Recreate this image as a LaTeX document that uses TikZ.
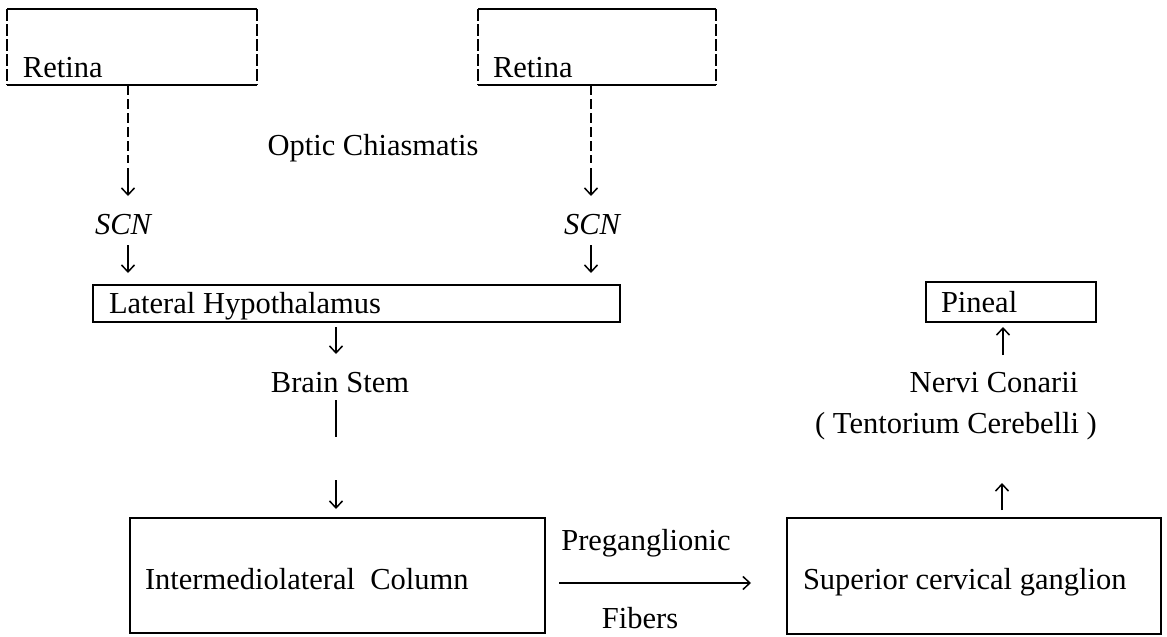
\documentclass[tikz,border=0pt]{standalone}
\usepackage{fontspec}
\setmainfont{Liberation Serif}
\usetikzlibrary{arrows.meta,calc}
\begin{document}
\begin{tikzpicture}[x=1pt,y=-1pt,
  every node/.style={font=\fontsize{30.5}{36}\selectfont, inner sep=0pt, outer sep=0pt},
  frame/.style={draw, line width=1.7pt, inner sep=0pt},
  solidedge/.style={line width=1.7pt},
  side/.style={line width=1.5pt, dash pattern=on 12pt off 3pt},
  txt/.style={anchor=base west},
  ctxt/.style={anchor=base},
  arr/.style={line width=1.2pt, -{Straight Barb[length=7pt,width=13pt,line width=1.5pt]}},
  dl/.style={line width=1.2pt, dash pattern=on 10pt off 4pt},
  ln/.style={line width=1.2pt}]
\useasboundingbox[fill=white] (0,0) rectangle (1167,637);

% Retina boxes
\node[minimum width=250pt,minimum height=76pt] (ret1) at (132,47) {};
\draw[solidedge] (ret1.north west) -- (ret1.north east) (ret1.south west) -- (ret1.south east);
\draw[side] (ret1.north west) -- (ret1.south west) (ret1.north east) -- (ret1.south east);
\node[txt] (rt1) at ($(ret1.south west)+(16,-8)$) {Retina};

\node[minimum width=238pt,minimum height=76pt] (ret2) at (597,47) {};
\draw[solidedge] (ret2.north west) -- (ret2.north east) (ret2.south west) -- (ret2.south east);
\draw[side] (ret2.north west) -- (ret2.south west) (ret2.north east) -- (ret2.south east);
\node[txt] (rt2) at ($(ret2.south west)+(15,-8)$) {Retina};

\node[ctxt] (oc) at (373,155) {Optic Chiasmatis};

% dashed optic paths
\coordinate (d1) at (128,163);
\coordinate (d2) at (591,163);
\draw[dl] (ret1.south -| d1) -- (d1);
\draw[dl] (ret2.south -| d2) -- (d2);

\coordinate (a1s) at (128,168); \coordinate (a1e) at (128,196);
\coordinate (a2s) at (591,168); \coordinate (a2e) at (591,196);
\draw[arr] (a1s) -- (a1e);
\draw[arr] (a2s) -- (a2e);

\node[ctxt] (scn1) at (123,234) {\itshape SCN};
\node[ctxt] (scn2) at (592,234) {\itshape SCN};

\coordinate (b1s) at (128,245); \coordinate (b1e) at (128,273);
\coordinate (b2s) at (591,245); \coordinate (b2e) at (591,273);
\draw[arr] (b1s) -- (b1e);
\draw[arr] (b2s) -- (b2e);

% Lateral Hypothalamus
\node[frame, minimum width=527pt, minimum height=37pt] (lh) at (356.5,303.5) {};
\node[txt] (lht) at (109,313) {Lateral Hypothalamus};

\coordinate (c1s) at (336,327); \coordinate (c1e) at (336,354);
\draw[arr] (c1s) -- (c1e);
\node[ctxt] (bs) at (340,392) {Brain Stem};
\coordinate (l1s) at (336,400); \coordinate (l1e) at (336,437);
\draw[ln] (l1s) -- (l1e);
\coordinate (c2s) at (336,480); \coordinate (c2e) at (336,509);
\draw[arr] (c2s) -- (c2e);

% Intermediolateral Column
\node[frame, minimum width=415pt, minimum height=115pt] (ilc) at (337.5,575.5) {};
\node[txt] (ilct) at (145,589) {Intermediolateral\ \ Column};

\node[ctxt] (pre) at (646,550) {Preganglionic};
\coordinate (h1s) at (559,583); \coordinate (h1e) at (751,583);
\draw[arr] (h1s) -- (h1e);
\node[ctxt] (fib) at (640,628) {Fibers};

% Superior cervical ganglion
\node[frame, minimum width=374pt, minimum height=116pt] (scg) at (974,576) {};
\node[txt] (scgt) at (803,589) {Superior cervical ganglion};

\coordinate (u1s) at (1002,510); \coordinate (u1e) at (1002,483);
\draw[arr] (u1s) -- (u1e);
\node[ctxt] (nc) at (994,392) {Nervi Conarii};
\node[ctxt] (tc) at (956,433) {( Tentorium Cerebelli )};
\coordinate (u2s) at (1003,355); \coordinate (u2e) at (1003,327);
\draw[arr] (u2s) -- (u2e);

% Pineal
\node[frame, minimum width=170pt, minimum height=40pt] (pin) at (1011,302) {};
\node[txt] (pint) at (941,312) {Pineal};
\end{tikzpicture}
\end{document}
